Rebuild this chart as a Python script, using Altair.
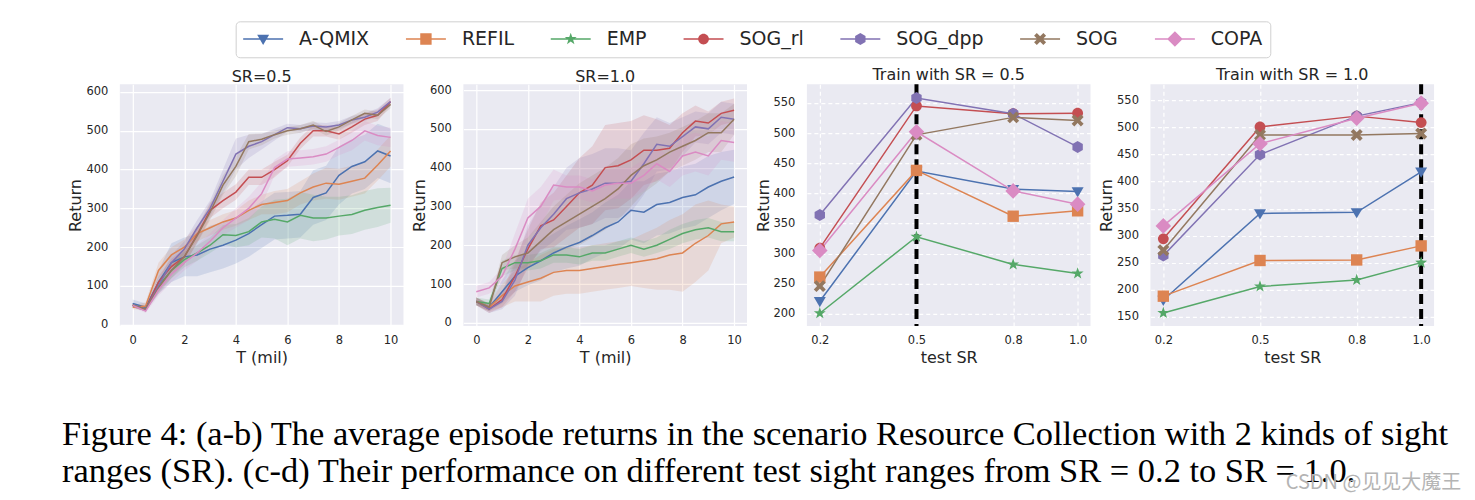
import math
import altair as alt
import pandas as pd

# ---------------- data ----------------
METHODS = ["A-QMIX", "REFIL", "EMP", "SOG_rl", "SOG_dpp", "SOG", "COPA"]
COLORS = ["#4C72B0", "#DD8452", "#55A868", "#C44E52", "#8172B3", "#937860", "#DA8BC3"]

T = [0.0, 0.5, 1.0, 1.5, 2.0, 2.5, 3.0, 3.5, 4.0, 4.5, 5.0,
     5.5, 6.0, 6.5, 7.0, 7.5, 8.0, 8.5, 9.0, 9.5, 10.0]

# (a) SR = 0.5 training curves (mean return)
SR05_MEAN = {
    "A-QMIX":  [55, 45, 110, 160, 175, 180, 195, 205, 218, 235, 258, 280, 282, 285, 328, 340, 385, 408, 420, 448, 435],
    "REFIL":   [45, 48, 140, 180, 200, 235, 250, 265, 275, 295, 310, 315, 320, 340, 355, 365, 362, 370, 378, 412, 448],
    "EMP":     [50, 40, 100, 140, 168, 185, 205, 232, 230, 240, 265, 272, 265, 282, 275, 275, 280, 284, 295, 302, 308],
    "SOG_rl":  [50, 40, 110, 150, 175, 232, 295, 320, 342, 380, 380, 400, 423, 468, 500, 500, 492, 510, 530, 540, 575],
    "SOG_dpp": [50, 40, 100, 160, 195, 250, 300, 370, 440, 460, 472, 490, 508, 505, 512, 510, 515, 528, 535, 548, 575],
    "SOG":     [50, 40, 95, 140, 175, 230, 290, 360, 408, 472, 478, 490, 500, 505, 515, 498, 510, 528, 545, 540, 568],
    "COPA":    [50, 35, 90, 130, 160, 185, 215, 250, 275, 300, 338, 405, 427, 430, 433, 440, 457, 475, 500, 488, 483],
}
# half width of the shaded band
SR05_BAND = {
    "A-QMIX":  [10, 10, 30, 50, 50, 55, 60, 60, 60, 60, 60, 60, 60, 60, 70, 70, 75, 70, 70, 70, 70],
    "REFIL":   [5, 10, 20, 20, 20, 20, 20, 20, 20, 25, 25, 30, 30, 30, 35, 40, 40, 40, 40, 40, 40],
    "EMP":     [5, 5, 15, 20, 20, 20, 20, 25, 30, 35, 40, 50, 60, 60, 60, 55, 50, 50, 50, 50, 45],
    "SOG_rl":  [5, 5, 15, 20, 20, 20, 20, 20, 20, 20, 20, 20, 15, 15, 15, 15, 15, 15, 15, 15, 10],
    "SOG_dpp": [5, 5, 15, 20, 20, 20, 20, 30, 40, 30, 20, 15, 10, 10, 10, 10, 10, 10, 10, 10, 10],
    "SOG":     [5, 5, 15, 20, 20, 20, 20, 25, 25, 20, 15, 10, 10, 10, 10, 10, 10, 10, 10, 10, 10],
    "COPA":    [5, 5, 15, 20, 20, 20, 20, 20, 25, 30, 30, 20, 20, 20, 20, 20, 20, 25, 25, 25, 25],
}

# (b) SR = 1.0 training curves
SR10_MEAN = {
    "A-QMIX":  [55, 40, 80, 120, 142, 160, 180, 195, 207, 225, 245, 260, 290, 285, 305, 310, 323, 330, 350, 365, 376],
    "REFIL":   [55, 40, 70, 95, 105, 115, 130, 135, 135, 140, 145, 150, 155, 160, 165, 175, 180, 205, 225, 255, 260],
    "EMP":     [55, 50, 140, 155, 155, 160, 175, 175, 170, 180, 180, 190, 200, 190, 200, 215, 230, 240, 245, 235, 235],
    "SOG_rl":  [55, 35, 60, 120, 190, 250, 265, 300, 335, 355, 400, 405, 420, 445, 445, 450, 490, 520, 515, 540, 548],
    "SOG_dpp": [55, 35, 55, 110, 200, 245, 280, 320, 335, 345, 360, 360, 365, 410, 460, 455, 480, 505, 500, 530, 525],
    "SOG":     [55, 40, 155, 170, 180, 210, 240, 260, 280, 300, 320, 345, 380, 405, 420, 440, 455, 470, 490, 490, 525],
    "COPA":    [80, 90, 120, 190, 270, 300, 355, 350, 350, 340, 355, 360, 360, 380, 410, 390, 430, 440, 430, 470, 465],
}
SR10_BAND = {
    "A-QMIX":  [10, 10, 30, 40, 45, 50, 50, 55, 60, 60, 65, 70, 75, 80, 80, 80, 80, 80, 80, 75, 70],
    "REFIL":   [10, 10, 30, 40, 50, 60, 60, 60, 60, 60, 60, 60, 60, 70, 80, 90, 100, 100, 90, 50, 40],
    "EMP":     [10, 10, 20, 20, 20, 20, 20, 20, 20, 20, 20, 20, 20, 20, 20, 25, 25, 25, 25, 25, 25],
    "SOG_rl":  [10, 10, 20, 40, 50, 60, 70, 80, 90, 100, 110, 110, 100, 90, 80, 60, 50, 40, 30, 30, 30],
    "SOG_dpp": [10, 10, 20, 40, 50, 60, 70, 80, 90, 90, 90, 90, 80, 80, 70, 60, 50, 40, 40, 40, 40],
    "SOG":     [10, 10, 20, 30, 40, 50, 60, 70, 80, 80, 80, 80, 80, 70, 60, 50, 50, 50, 50, 50, 40],
    "COPA":    [15, 15, 20, 40, 50, 50, 40, 30, 30, 30, 40, 40, 40, 40, 40, 40, 50, 50, 50, 50, 50],
}

# (c-d) generalisation to test sight ranges
TEST_SR = [0.2, 0.5, 0.8, 1.0]
TRAIN05 = {
    "A-QMIX":  [221, 437, 407, 403],
    "REFIL":   [261, 438, 362, 371],
    "EMP":     [201, 328, 282, 267],
    "SOG_rl":  [309, 545, 532, 533],
    "SOG_dpp": [364, 558, 532, 477],
    "SOG":     [246, 497, 526, 521],
    "COPA":    [305, 502, 404, 382],
}
TRAIN10 = {
    "A-QMIX":  [181, 341, 343, 418],
    "REFIL":   [188, 254, 255, 281],
    "EMP":     [157, 206, 218, 250],
    "SOG_rl":  [294, 501, 521, 509],
    "SOG_dpp": [263, 450, 521, 546],
    "SOG":     [273, 486, 486, 489],
    "COPA":    [318, 470, 517, 545],
}

CAPTION = [
    "Figure 4: (a-b) The average episode returns in the scenario Resource Collection with 2 kinds of sight",
    "ranges (SR). (c-d) Their performance on different test sight ranges from SR = 0.2 to SR = 1.0.",
]
WATERMARK = "CSDN @见见大魔王"


# ---------------- marker geometry (style only) ----------------
def star_pts(ro=1.05, ri=0.42):
    p = []
    for k in range(5):
        a = math.radians(-90 + 72 * k)
        p.append((ro * math.cos(a), ro * math.sin(a)))
        b = math.radians(-54 + 72 * k)
        p.append((ri * math.cos(b), ri * math.sin(b)))
    return p


def hex_pts(r=1.0):
    return [(r * math.cos(math.radians(-90 + 60 * k)), r * math.sin(math.radians(-90 + 60 * k))) for k in range(6)]


MARKERS = {
    "A-QMIX": [(-1.0, -0.7), (1.0, -0.7), (0.0, 1.0)],
    "REFIL": [(-0.95, -0.95), (0.95, -0.95), (0.95, 0.95), (-0.95, 0.95)],
    "EMP": star_pts(),
    "SOG_rl": 0.9,
    "SOG_dpp": hex_pts(1.0),
    "SOG": [(-1, -0.55), (-0.55, -1), (0, -0.45), (0.55, -1), (1, -0.55), (0.45, 0),
            (1, 0.55), (0.55, 1), (0, 0.45), (-0.55, 1), (-1, 0.55), (-0.45, 0)],
    "COPA": [(0, -1.3), (1.3, 0), (0, 1.3), (-1.3, 0)],
}


def marker_path(m, k, dx=0.0):
    g = MARKERS[m]
    if isinstance(g, float):
        r = g * k
        return (f"M{dx + r:.3f},0A{r:.3f},{r:.3f} 0 1 1 {dx - r:.3f},0"
                f"A{r:.3f},{r:.3f} 0 1 1 {dx + r:.3f},0Z")
    return "M" + "L".join(f"{dx + x * k:.3f},{y * k:.3f}" for x, y in g) + "Z"


# panel markers: size 144 -> 6 px per unit
PANEL_SHAPES = [marker_path(m, 1.0) for m in METHODS]
# legend symbols: size 361 -> 9.5 px per unit; 40 px line centred 10 px right of the symbol anchor
LEG_R = 9.5
LEG_HALF = 20 / LEG_R
LEG_DX = 10 / LEG_R
LEG_TH = 0.8 / LEG_R
LEGEND_SHAPES = [
    f"M{LEG_DX - LEG_HALF:.3f},{-LEG_TH:.3f}L{LEG_DX + LEG_HALF:.3f},{-LEG_TH:.3f}"
    f"L{LEG_DX + LEG_HALF:.3f},{LEG_TH:.3f}L{LEG_DX - LEG_HALF:.3f},{LEG_TH:.3f}Z"
    + marker_path(m, 6 / LEG_R, LEG_DX)
    for m in METHODS
]


# ---------------- frames ----------------
def curve_frame(means, bands):
    rows = []
    for m in METHODS:
        for t, v, w in zip(T, means[m], bands[m]):
            rows.append({"method": m, "T": t, "ret": v, "lo": v - w, "hi": v + w})
    return pd.DataFrame(rows)


def sr_frame(table):
    rows = []
    for m in METHODS:
        for s, v in zip(TEST_SR, table[m]):
            rows.append({"method": m, "sr": s, "ret": v})
    return pd.DataFrame(rows)


PANEL_W, PANEL_H = 284, 242
FONT = "DejaVu Sans"
TXT = "#262626"

cscale = alt.Scale(domain=METHODS, range=COLORS)
# same mapping, listed in reverse so the (legend-less) band scale is never merged with the legend
fscale = alt.Scale(domain=METHODS[::-1], range=COLORS[::-1])


def panel_title(t, off=-1):
    return alt.TitleParams(t, fontSize=16, font=FONT, fontWeight="normal", color=TXT, offset=off)


def curve_panel(df, title, ydom, with_legend=False):
    base = alt.Chart(df)
    xs = alt.Scale(domain=[-0.5, 10.5], nice=False, zero=False)
    ys = alt.Scale(domain=ydom, nice=False, zero=False)
    xax = alt.Axis(values=[0, 2, 4, 6, 8, 10], title="T (mil)")
    yax = alt.Axis(values=[0, 100, 200, 300, 400, 500, 600], title="Return")
    if with_legend:
        col = alt.Color("method:N", scale=cscale, legend=alt.Legend(title=None))
    else:
        col = alt.Color("method:N", scale=cscale, legend=None)
    band = base.mark_area(opacity=0.17, clip=True).encode(
        x=alt.X("T:Q", scale=xs, axis=xax),
        y=alt.Y("lo:Q", scale=ys, axis=yax),
        y2="hi:Q",
        fill=alt.Fill("method:N", scale=fscale, legend=None),
    )
    line = base.mark_line(strokeWidth=1.5, clip=True).encode(
        x=alt.X("T:Q", scale=xs, axis=xax),
        y=alt.Y("ret:Q", scale=ys, axis=yax),
        color=col,
    )
    layers = [band, line]
    if with_legend:
        dummy = base.transform_filter("false").mark_point(filled=True, size=361, opacity=1, strokeWidth=0).encode(
            x=alt.X("T:Q", scale=xs, axis=xax),
            y=alt.Y("ret:Q", scale=ys, axis=yax),
            color=col,
            shape=alt.Shape("method:N", scale=alt.Scale(domain=METHODS, range=LEGEND_SHAPES),
                            legend=alt.Legend(title=None)),
        )
        layers.append(dummy)
    # the legend sits above panel (a); pull the title back down below it
    return alt.layer(*layers).properties(
        width=PANEL_W, height=PANEL_H, title=panel_title(title, -64 if with_legend else -1))


def sr_panel(df, title, ydom, yvals, train):
    base = alt.Chart(df)
    xs = alt.Scale(domain=[0.16, 1.04], nice=False, zero=False)
    ys = alt.Scale(domain=ydom, nice=False, zero=False)
    xax = alt.Axis(values=TEST_SR, format=".1f", title="test SR", gridDash=[4, 3])
    yax = alt.Axis(values=yvals, title="Return", gridDash=[4, 3])
    col = alt.Color("method:N", scale=cscale, legend=None)
    line = base.mark_line(strokeWidth=1.5).encode(
        x=alt.X("sr:Q", scale=xs, axis=xax), y=alt.Y("ret:Q", scale=ys, axis=yax), color=col)
    rule = alt.Chart(pd.DataFrame({"train": [train]})).mark_rule(
        color="black", strokeWidth=4, strokeDash=[10, 5]).encode(x=alt.X("train:Q", scale=xs, axis=xax))
    pts = base.mark_point(filled=True, size=144, opacity=1, strokeWidth=0).encode(
        x=alt.X("sr:Q", scale=xs, axis=xax), y=alt.Y("ret:Q", scale=ys, axis=yax), color=col,
        shape=alt.Shape("method:N", scale=alt.Scale(domain=METHODS, range=PANEL_SHAPES), legend=None))
    return alt.layer(line, rule, pts).properties(width=PANEL_W, height=PANEL_H, title=panel_title(title))


p1 = curve_panel(curve_frame(SR05_MEAN, SR05_BAND), "SR=0.5", [-3, 620], with_legend=True)
p2 = curve_panel(curve_frame(SR10_MEAN, SR10_BAND), "SR=1.0", [-8, 615])
p3 = sr_panel(sr_frame(TRAIN05), "Train with SR = 0.5", [180, 581], [200, 250, 300, 350, 400, 450, 500, 550], 0.5)
p4 = sr_panel(sr_frame(TRAIN10), "Train with SR = 1.0", [133, 580], [150, 200, 250, 300, 350, 400, 450, 500, 550], 1.0)

inner = alt.hconcat(p1, p2, p3, p4, spacing=60, bounds="flush").resolve_scale(
    color="independent", shape="independent", fill="independent"
).properties(
    title=alt.TitleParams(CAPTION, orient="bottom", anchor="start", font="Liberation Serif", fontSize=34.5,
                          fontWeight="normal", color="black", lineHeight=37, offset=53, dx=-6)
)

chart = alt.vconcat(inner).properties(
    title=alt.TitleParams(WATERMARK, orient="bottom", anchor="end", font="Noto Sans CJK SC", fontSize=20,
                          fontWeight="normal", color="#b4b4b4", offset=-16, dx=12),
    padding={"left": 54, "top": 12, "right": 5, "bottom": 5},
).configure_view(fill="#EAEAF2", stroke=None).configure_axis(
    domain=False, ticks=False, tickSize=0, labelFont=FONT, labelFontSize=11.5, labelColor=TXT,
    titleFont=FONT, titleFontSize=16, titleFontWeight="normal", titleColor=TXT,
    gridColor="white", gridWidth=1.2, gridOpacity=1,
).configure_axisY(labelPadding=12, titlePadding=2).configure_axisX(labelPadding=9, titlePadding=3).configure_legend(
    orient="none", legendX=116, legendY=-63, direction="horizontal", columns=7,
    symbolSize=361, symbolStrokeWidth=0, symbolOpacity=1, labelFont=FONT, labelFontSize=19, labelColor=TXT,
    labelOffset=36.5, columnPadding=36, padding=8, strokeColor="#d0d0d0", fillColor="white", cornerRadius=4,
)

chart.save("out.html", embed_options={"renderer": "svg", "actions": False})
